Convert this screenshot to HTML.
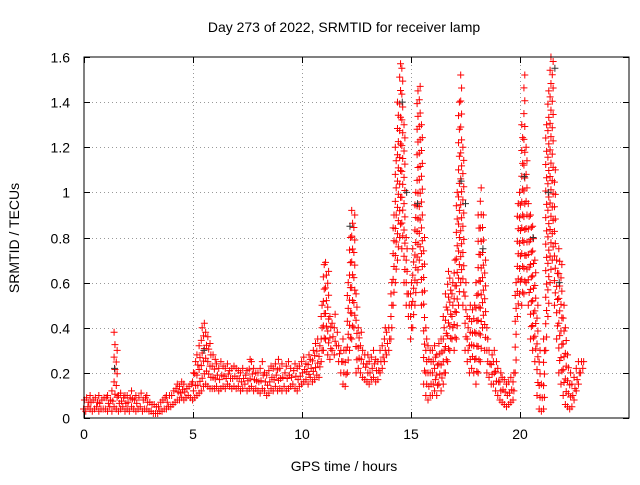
<!DOCTYPE html>
<html><head><meta charset="utf-8"><style>
body{margin:0;background:#fff;}
svg{font-family:"Liberation Sans",sans-serif;}
</style></head><body>
<svg id="chart" width="640" height="480" viewBox="0 0 640 480" xmlns="http://www.w3.org/2000/svg">
<rect width="640" height="480" fill="#fff"/>
<text x="344" y="32" font-size="14" text-anchor="middle">Day 273 of 2022, SRMTID for receiver lamp</text>
<text x="344" y="471" font-size="14" text-anchor="middle">GPS time / hours</text>
<text x="19" y="238" font-size="14" text-anchor="middle" transform="rotate(-90 19 238)">SRMTID / TECUs</text>
<g id="grid"></g>
<g id="ticks"></g>
<g id="marks"></g>
<rect x="84" y="57" width="545" height="361" fill="none" stroke="#000" stroke-width="1"/>
</svg>
<script>
const xTicks=[0,5,10,15,20];
const yTicks=[0,0.2,0.4,0.6,0.8,1,1.2,1.4,1.6];
const yTickLabels=["0","0.2","0.4","0.6","0.8","1","1.2","1.4","1.6"];
const lowValues=[
.04,.03,.05,.04,.03,.04,.05,.03,.04,.04,
.04,.03,.05,.03,.05,.04,.03,.04,.05,.03,
.04,.03,.05,.04,.03,.04,.05,.03,.04,.04,
.03,.03,.02,.02,.02,.03,.03,.04,.04,.05,
.05,.06,.07,.08,.08,.09,.08,.09,.1,.09,
.08,.09,.1,.11,.12,.14,.15,.14,.13,.13,
.13,.14,.12,.13,.14,.13,.15,.14,.13,.14,
.13,.14,.12,.13,.15,.12,.13,.14,.12,.13,
.12,.11,.13,.12,.1,.11,.13,.12,.14,.12,
.13,.12,.14,.12,.13,.14,.15,.13,.12,.14,
.15,.16,.17,.15,.18,.16,.17,.19,.18,.25,
.3,.35,.28,.26,.3,.28,.32,.25,.2,.15,
.14,.2,.3,.35,.4,.2,.22,.2,.18,.17,
.16,.15,.17,.18,.16,.17,.2,.22,.25,.28,
.3,.35,.5,.6,.7,.8,.75,.6,.5,.45,
.35,.4,.5,.6,.7,.5,.15,.1,.08,.1,
.1,.12,.1,.15,.12,.15,.2,.25,.3,.35,
.3,.35,.5,.6,.5,.3,.25,.2,.22,.2,
.15,.2,.25,.4,.3,.2,.18,.15,.15,.12,
.1,.08,.07,.06,.05,.06,.07,.08,.2,.45,
.55,.5,.55,.6,.5,.35,.3,.25,.1,.04,
.03,.04,.3,.45,.6,.7,.5,.35,.2,.15,
.1,.06,.05,.04,.05,.08,.12,.15,.2,.22];
const highValues=[
.08,.09,.07,.1,.08,.09,.07,.1,.08,.09,
.09,.1,.08,.12,.38,.3,.1,.11,.09,.1,
.1,.09,.12,.08,.1,.09,.11,.08,.09,.1,
.07,.06,.06,.05,.05,.07,.08,.09,.1,.1,
.1,.12,.13,.15,.14,.16,.15,.13,.14,.15,
.2,.25,.28,.32,.4,.42,.38,.36,.33,.28,
.26,.24,.22,.25,.23,.22,.24,.21,.22,.23,
.22,.21,.2,.22,.19,.21,.26,.25,.22,.2,
.2,.22,.25,.2,.19,.21,.23,.22,.24,.26,
.22,.24,.2,.23,.25,.22,.21,.24,.22,.23,
.25,.27,.24,.28,.26,.3,.33,.35,.32,.5,
.68,.69,.65,.45,.42,.46,.38,.32,.3,.35,
.3,.6,.8,.92,.9,.55,.4,.38,.3,.28,
.28,.25,.27,.3,.26,.25,.3,.32,.4,.38,
.4,.6,.9,1.2,1.4,1.57,1.55,1.3,.8,.55,
.6,.75,1.0,1.45,1.47,1.3,.8,.4,.32,.3,
.3,.32,.28,.33,.35,.45,.55,.65,.62,.6,
.7,1.0,1.4,1.52,1.2,.6,.45,.5,.48,.5,
.6,.9,1.02,.9,.7,.4,.3,.28,.3,.25,
.22,.2,.18,.17,.15,.16,.18,.2,.6,.95,
1.0,1.3,1.52,1.2,.95,.9,.85,.7,.5,.3,
.15,.35,1.3,1.45,1.6,1.58,1.1,.7,.75,.68,
.5,.4,.28,.2,.15,.18,.22,.25,.25,.25];
const blackTimes=[1.4,5.5,12.2,14.6,14.8,15.3,17.3,17.5,18.3,20.2,20.6,21.3,21.6,21.8];
const blackValues=[0.22,0.3,0.85,1.4,1.0,0.95,1.05,0.95,0.75,1.07,0.8,1.0,1.55,0.6];

const NS="http://www.w3.org/2000/svg";
const X0=84,X1=629,Y0=418,Y1=57,XMAX=25,YMAX=1.6;
function xs(v){return X0+v/XMAX*(X1-X0);}
function ys(v){return Y0-v/YMAX*(Y0-Y1);}
const grid=document.getElementById('grid'),ticks=document.getElementById('ticks'),marks=document.getElementById('marks');
function line(p,x1,y1,x2,y2,st,dash){const l=document.createElementNS(NS,'line');l.setAttribute('x1',x1);l.setAttribute('y1',y1);l.setAttribute('x2',x2);l.setAttribute('y2',y2);l.setAttribute('stroke',st);if(dash)l.setAttribute('stroke-dasharray',dash);p.appendChild(l);return l;}
function txt(p,x,y,s,anchor){const t=document.createElementNS(NS,'text');t.setAttribute('x',x);t.setAttribute('y',y);t.setAttribute('font-size','14');t.setAttribute('text-anchor',anchor);t.textContent=s;p.appendChild(t);return t;}
xTicks.forEach(v=>{const x=xs(v)+0.5;
if(v>0){const g=line(grid,x,Y0,x,Y1,'#999','1,3');

}
line(ticks,x,Y0,x,Y0-6,'#000');line(ticks,x,Y1,x,Y1+6,'#000');
const t=txt(ticks,xs(v),439,String(v),'middle');

});
yTicks.forEach((v,i)=>{const y=Math.round(ys(v))+0.5;
if(v>0&&v<YMAX){const g=line(grid,X0,y,X1,y,'#999','1,3');

}
line(ticks,X0,y,X0+6,y,'#000');line(ticks,X1,y,X1-6,y,'#000');
const t=txt(ticks,70,y+5,yTickLabels[i],'end');

});
function cross(px,py,col){const p=document.createElementNS(NS,'path');
p.setAttribute('d',`M${px-3.5},${py}H${px+3.5}M${px},${py-3.5}V${py+3.5}`);
p.setAttribute('stroke',col);p.setAttribute('fill','none');


marks.appendChild(p);}
lowValues.forEach((lo,i)=>{const hi=highValues[i];const t=i*0.1;
const n=Math.max(1,Math.ceil((hi-lo)/0.06));
for(let k=0;k<=n;k++){const v=lo+(hi-lo)*k/n;const dt=((k%2)?0.02:-0.02);
cross(xs(t+dt),ys(v),'#ff0000');}});
blackTimes.forEach((t,i)=>cross(xs(t),ys(blackValues[i]),'#333'));
</script>
</body></html>
